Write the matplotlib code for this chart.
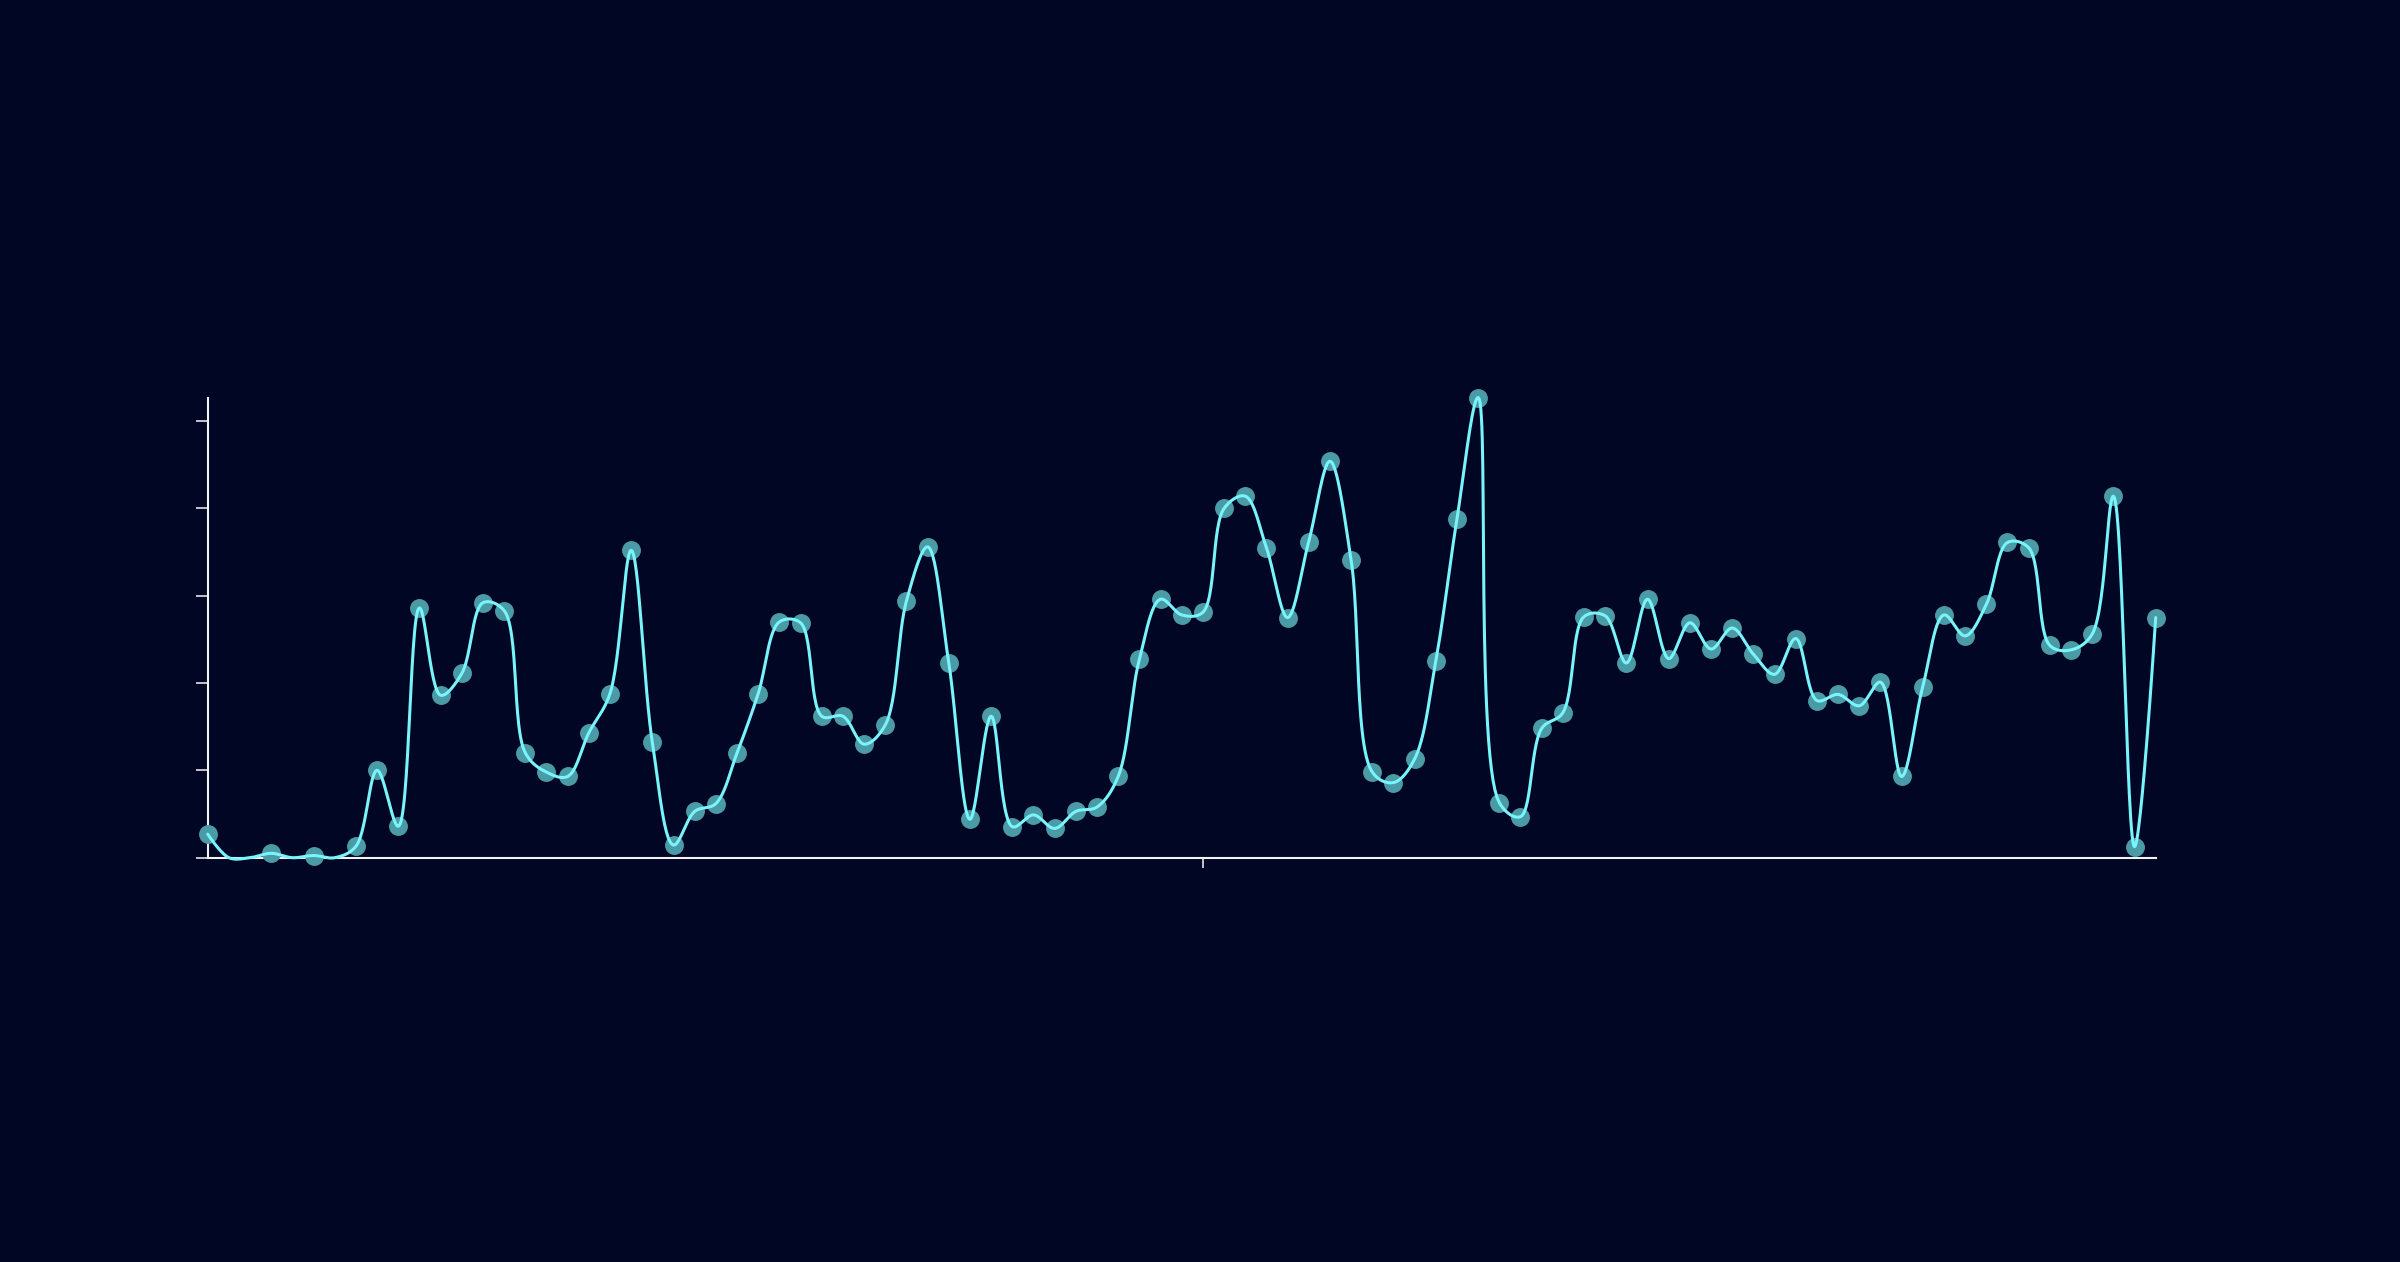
import numpy as np
import matplotlib
matplotlib.use("Agg")
import matplotlib.pyplot as plt

BG = "#000623"
LINE_COLOR = "#78f4fa"
DOT_COLOR = "#4a9ba6"
AXIS_COLOR = "#f2f2f2"
TICK_COLOR = "#c4c4cc"

# values, one per step (zeros have no dot)
values = [
    0.27, 0.0, 0.0, 0.05, 0.0, 0.025, 0.0, 0.13, 1.00, 0.36,
    2.86, 1.86, 2.11, 2.92, 2.83, 1.20, 0.98, 0.93, 1.43, 1.88,
    3.52, 1.32, 0.145, 0.53, 0.62, 1.20, 1.88, 2.70, 2.69, 1.62,
    1.62, 1.30, 1.52, 2.94, 3.56, 2.23, 0.44, 1.62, 0.355, 0.49,
    0.335, 0.53, 0.58, 0.93, 2.27, 2.96, 2.78, 2.81, 4.00, 4.14,
    3.55, 2.75, 3.62, 4.54, 3.41, 0.98, 0.86, 1.13, 2.25, 3.88,
    5.27, 0.63, 0.47, 1.48, 1.66, 2.76, 2.77, 2.23, 2.96, 2.28,
    2.69, 2.39, 2.63, 2.33, 2.10, 2.51, 1.80, 1.87, 1.74, 2.01,
    0.93, 1.96, 2.78, 2.54, 2.90, 3.61, 3.55, 2.43, 2.38, 2.56,
    4.14, 0.126, 2.75,
]
x_ticks = [47]
y_ticks = [0, 1, 2, 3, 4, 5]


def catmull_rom(points, alpha=0.5, samples=30):
    """Centripetal Catmull-Rom through points (pixel space), like d3.curveCatmullRom."""
    pts = np.vstack([points[:1], points, points[-1:]])
    eps = 1e-12
    out = [pts[1]]
    t = np.linspace(0, 1, samples)[1:, None]
    for i in range(1, len(pts) - 2):
        p0, p1, p2, p3 = pts[i - 1], pts[i], pts[i + 1], pts[i + 2]
        l01_2a = np.sum((p1 - p0) ** 2) ** alpha
        l12_2a = np.sum((p2 - p1) ** 2) ** alpha
        l23_2a = np.sum((p3 - p2) ** 2) ** alpha
        l01_a, l12_a, l23_a = np.sqrt(l01_2a), np.sqrt(l12_2a), np.sqrt(l23_2a)
        c1 = p1
        if l01_a > eps:
            a = 2 * l01_2a + 3 * l01_a * l12_a + l12_2a
            n = 3 * l01_a * (l01_a + l12_a)
            c1 = (p1 * a - p0 * l12_2a + p2 * l01_2a) / n
        c2 = p2
        if l23_a > eps:
            b = 2 * l23_2a + 3 * l23_a * l12_a + l12_2a
            m = 3 * l23_a * (l23_a + l12_a)
            c2 = (p2 * b + p1 * l23_2a - p3 * l12_2a) / m
        seg = ((1 - t) ** 3) * p1 + 3 * ((1 - t) ** 2) * t * c1 + 3 * (1 - t) * t ** 2 * c2 + t ** 3 * p2
        out.extend(seg)
    return np.array(out)


vals = np.array(values)
xs = np.arange(len(vals))

fig = plt.figure(figsize=(24, 12.62), dpi=100, facecolor=BG)
ax = fig.add_axes([0.08654, 0.32037, 0.81167, 0.36465])
ax.set_facecolor(BG)
ax.set_xlim(0, len(vals) - 1)
ax.set_ylim(0, vals.max())

# smooth curve is built in pixel space, then mapped back to data
pix = ax.transData.transform(np.column_stack([xs, vals]))
curve = ax.transData.inverted().transform(catmull_rom(pix))

shown = vals > 0
ax.scatter(xs[shown], vals[shown], s=185, color=DOT_COLOR, linewidths=0,
           zorder=3, clip_on=False)
ax.plot(curve[:, 0], curve[:, 1], color=LINE_COLOR, lw=2.2, zorder=4,
        clip_on=False, solid_capstyle="round")

for side in ["top", "right"]:
    ax.spines[side].set_visible(False)
for side in ["left", "bottom"]:
    ax.spines[side].set_color(AXIS_COLOR)
    ax.spines[side].set_linewidth(1.5)

ax.set_xticks(x_ticks)
ax.set_yticks(y_ticks)
ax.set_xticklabels([])
ax.set_yticklabels([])
ax.tick_params(axis="y", length=8.6, width=1.4, color=TICK_COLOR)
ax.tick_params(axis="x", length=7.2, width=1.4, color=TICK_COLOR)

fig.savefig("out.png", dpi=100, facecolor=BG)
